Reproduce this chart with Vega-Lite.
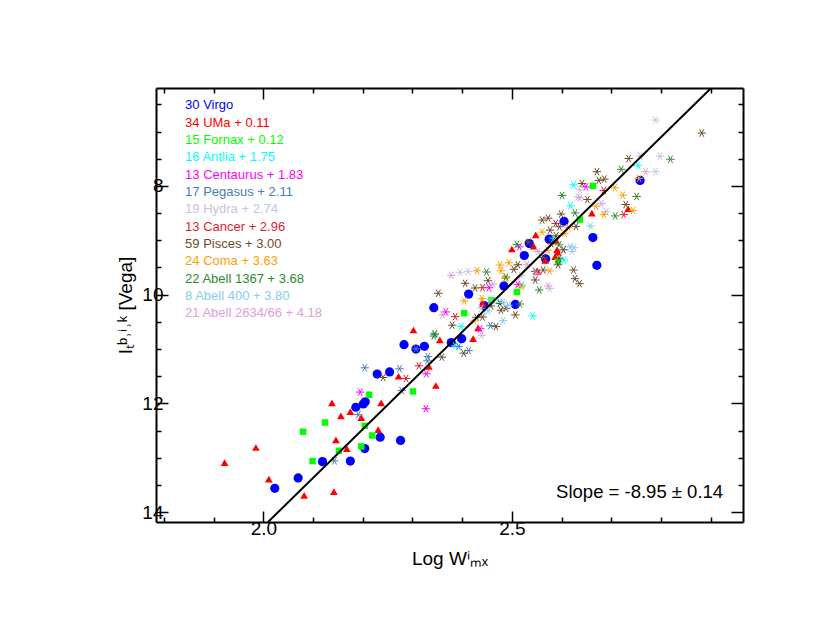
{
  "$schema": "https://vega.github.io/schema/vega-lite/v6.json",
  "width": 587,
  "height": 434,
  "autosize": {"type": "none"},
  "padding": {"left": 156, "top": 88, "right": 87, "bottom": 120},
  "config": {
    "view": {"stroke": null},
    "font": "Liberation Sans",
    "axis": {"grid": false, "domainColor": "black", "domainWidth": 2, "tickColor": "black", "tickWidth": 1.5, "labelColor": "black", "labelFont": "Liberation Sans", "labelFontSize": 19, "titleFont": "Liberation Sans", "titleFontSize": 19, "titleFontWeight": "normal", "titleColor": "black"}
  },
  "datasets": {
    "fit": [{"x": 2.0094, "y": 14.18}, {"x": 2.901, "y": 6.2}],
    "leg": [
      {"order": 0, "c": "Virgo", "label": "30 Virgo"},
      {"order": 1, "c": "UMa", "label": "34 UMa + 0.11"},
      {"order": 2, "c": "Fornax", "label": "15 Fornax + 0.12"},
      {"order": 3, "c": "Antlia", "label": "16 Antlia + 1.75"},
      {"order": 4, "c": "Centaurus", "label": "13 Centaurus + 1.83"},
      {"order": 5, "c": "Pegasus", "label": "17 Pegasus + 2.11"},
      {"order": 6, "c": "Hydra", "label": "19 Hydra + 2.74"},
      {"order": 7, "c": "Cancer", "label": "13 Cancer + 2.96"},
      {"order": 8, "c": "Pisces", "label": "59 Pisces + 3.00"},
      {"order": 9, "c": "Coma", "label": "24 Coma + 3.63"},
      {"order": 10, "c": "Abell 1367", "label": "22 Abell 1367 + 3.68"},
      {"order": 11, "c": "Abell 400", "label": "8 Abell 400 + 3.80"},
      {"order": 12, "c": "Abell 2634/66", "label": "21 Abell 2634/66 + 4.18"}
    ],
    "pts": [
      {"c": "Virgo", "x": 2.758, "y": 7.90},
      {"c": "Virgo", "x": 2.605, "y": 8.65},
      {"c": "Virgo", "x": 2.575, "y": 8.98},
      {"c": "Virgo", "x": 2.663, "y": 8.95},
      {"c": "Virgo", "x": 2.535, "y": 9.06},
      {"c": "Virgo", "x": 2.525, "y": 9.28},
      {"c": "Virgo", "x": 2.568, "y": 9.34},
      {"c": "Virgo", "x": 2.671, "y": 9.46},
      {"c": "Virgo", "x": 2.484, "y": 9.84},
      {"c": "Virgo", "x": 2.413, "y": 9.99},
      {"c": "Virgo", "x": 2.507, "y": 10.18},
      {"c": "Virgo", "x": 2.343, "y": 10.24},
      {"c": "Virgo", "x": 2.444, "y": 10.20},
      {"c": "Virgo", "x": 2.399, "y": 10.81},
      {"c": "Virgo", "x": 2.378, "y": 10.88},
      {"c": "Virgo", "x": 2.324, "y": 10.95},
      {"c": "Virgo", "x": 2.307, "y": 11.00},
      {"c": "Virgo", "x": 2.283, "y": 10.92},
      {"c": "Virgo", "x": 2.229, "y": 11.46},
      {"c": "Virgo", "x": 2.254, "y": 11.42},
      {"c": "Virgo", "x": 2.186, "y": 12.07},
      {"c": "Virgo", "x": 2.201, "y": 12.01},
      {"c": "Virgo", "x": 2.205, "y": 11.97},
      {"c": "Virgo", "x": 2.235, "y": 12.62},
      {"c": "Virgo", "x": 2.276, "y": 12.68},
      {"c": "Virgo", "x": 2.204, "y": 12.83},
      {"c": "Virgo", "x": 2.119, "y": 13.07},
      {"c": "Virgo", "x": 2.175, "y": 13.06},
      {"c": "Virgo", "x": 2.070, "y": 13.37},
      {"c": "Virgo", "x": 2.023, "y": 13.56},
      {"c": "UMa", "x": 2.302, "y": 10.65},
      {"c": "UMa", "x": 2.355, "y": 10.83},
      {"c": "UMa", "x": 2.272, "y": 11.50},
      {"c": "UMa", "x": 2.333, "y": 11.32},
      {"c": "UMa", "x": 2.347, "y": 11.67},
      {"c": "UMa", "x": 2.138, "y": 11.99},
      {"c": "UMa", "x": 2.237, "y": 11.99},
      {"c": "UMa", "x": 2.156, "y": 12.23},
      {"c": "UMa", "x": 2.175, "y": 12.15},
      {"c": "UMa", "x": 2.197, "y": 12.26},
      {"c": "UMa", "x": 2.231, "y": 12.48},
      {"c": "UMa", "x": 2.146, "y": 12.67},
      {"c": "UMa", "x": 2.168, "y": 12.83},
      {"c": "UMa", "x": 1.985, "y": 12.81},
      {"c": "UMa", "x": 1.922, "y": 13.09},
      {"c": "UMa", "x": 2.011, "y": 13.39},
      {"c": "UMa", "x": 2.082, "y": 13.69},
      {"c": "UMa", "x": 2.142, "y": 13.62},
      {"c": "UMa", "x": 2.661, "y": 8.50},
      {"c": "UMa", "x": 2.734, "y": 8.42},
      {"c": "UMa", "x": 2.548, "y": 8.90},
      {"c": "UMa", "x": 2.589, "y": 9.00},
      {"c": "UMa", "x": 2.500, "y": 9.16},
      {"c": "UMa", "x": 2.544, "y": 9.11},
      {"c": "UMa", "x": 2.591, "y": 9.17},
      {"c": "UMa", "x": 2.592, "y": 9.22},
      {"c": "UMa", "x": 2.567, "y": 9.37},
      {"c": "UMa", "x": 2.587, "y": 9.30},
      {"c": "UMa", "x": 2.552, "y": 9.57},
      {"c": "UMa", "x": 2.441, "y": 10.16},
      {"c": "UMa", "x": 2.432, "y": 10.61},
      {"c": "UMa", "x": 2.422, "y": 10.81},
      {"c": "Fornax", "x": 2.213, "y": 11.84},
      {"c": "Fornax", "x": 2.301, "y": 11.78},
      {"c": "Fornax", "x": 2.124, "y": 12.35},
      {"c": "Fornax", "x": 2.080, "y": 12.52},
      {"c": "Fornax", "x": 2.204, "y": 12.41},
      {"c": "Fornax", "x": 2.219, "y": 12.59},
      {"c": "Fornax", "x": 2.197, "y": 12.79},
      {"c": "Fornax", "x": 2.152, "y": 12.87},
      {"c": "Fornax", "x": 2.099, "y": 13.06},
      {"c": "Fornax", "x": 2.663, "y": 8.00},
      {"c": "Fornax", "x": 2.637, "y": 8.62},
      {"c": "Fornax", "x": 2.593, "y": 9.38},
      {"c": "Fornax", "x": 2.510, "y": 9.95},
      {"c": "Fornax", "x": 2.459, "y": 10.10},
      {"c": "Fornax", "x": 2.404, "y": 10.34},
      {"c": "Antlia", "x": 2.754, "y": 7.622},
      {"c": "Antlia", "x": 2.618, "y": 8.367},
      {"c": "Antlia", "x": 2.624, "y": 7.982},
      {"c": "Antlia", "x": 2.605, "y": 9.363},
      {"c": "Antlia", "x": 2.520, "y": 9.822},
      {"c": "Antlia", "x": 2.398, "y": 10.587},
      {"c": "Antlia", "x": 2.476, "y": 10.139},
      {"c": "Antlia", "x": 2.542, "y": 10.391},
      {"c": "Antlia", "x": 2.386, "y": 10.941},
      {"c": "Antlia", "x": 2.584, "y": 8.960},
      {"c": "Antlia", "x": 2.344, "y": 10.734},
      {"c": "Centaurus", "x": 2.649, "y": 8.018},
      {"c": "Centaurus", "x": 2.454, "y": 9.872},
      {"c": "Centaurus", "x": 2.367, "y": 10.317},
      {"c": "Centaurus", "x": 2.515, "y": 9.121},
      {"c": "Centaurus", "x": 2.512, "y": 9.811},
      {"c": "Centaurus", "x": 2.436, "y": 10.626},
      {"c": "Centaurus", "x": 2.328, "y": 11.455},
      {"c": "Centaurus", "x": 2.327, "y": 12.097},
      {"c": "Centaurus", "x": 2.195, "y": 11.791},
      {"c": "Pegasus", "x": 2.457, "y": 10.569},
      {"c": "Pegasus", "x": 2.393, "y": 10.954},
      {"c": "Pegasus", "x": 2.413, "y": 11.028},
      {"c": "Pegasus", "x": 2.331, "y": 11.138},
      {"c": "Pegasus", "x": 2.330, "y": 11.217},
      {"c": "Pegasus", "x": 2.307, "y": 10.996},
      {"c": "Pegasus", "x": 2.274, "y": 11.363},
      {"c": "Pegasus", "x": 2.204, "y": 11.345},
      {"c": "Pegasus", "x": 2.278, "y": 11.761},
      {"c": "Pegasus", "x": 2.191, "y": 12.207},
      {"c": "Pegasus", "x": 2.143, "y": 13.057},
      {"c": "Hydra", "x": 2.789, "y": 6.789},
      {"c": "Hydra", "x": 2.798, "y": 7.455},
      {"c": "Hydra", "x": 2.789, "y": 7.739},
      {"c": "Hydra", "x": 2.690, "y": 8.473},
      {"c": "Hydra", "x": 2.633, "y": 8.202},
      {"c": "Hydra", "x": 2.603, "y": 9.167},
      {"c": "Hydra", "x": 2.412, "y": 9.571},
      {"c": "Hydra", "x": 2.396, "y": 9.589},
      {"c": "Hydra", "x": 2.621, "y": 9.207},
      {"c": "Hydra", "x": 2.576, "y": 9.886},
      {"c": "Hydra", "x": 2.519, "y": 9.651},
      {"c": "Hydra", "x": 2.637, "y": 8.072},
      {"c": "Hydra", "x": 2.438, "y": 10.250},
      {"c": "Cancer", "x": 2.685, "y": 8.084},
      {"c": "Cancer", "x": 2.725, "y": 8.528},
      {"c": "Cancer", "x": 2.588, "y": 8.690},
      {"c": "Cancer", "x": 2.441, "y": 9.872},
      {"c": "Cancer", "x": 2.386, "y": 10.404},
      {"c": "Cancer", "x": 2.313, "y": 11.308},
      {"c": "Cancer", "x": 2.287, "y": 11.541},
      {"c": "Pisces", "x": 2.882, "y": 7.029},
      {"c": "Pisces", "x": 2.735, "y": 7.497},
      {"c": "Pisces", "x": 2.671, "y": 7.739},
      {"c": "Pisces", "x": 2.686, "y": 7.875},
      {"c": "Pisces", "x": 2.675, "y": 7.899},
      {"c": "Pisces", "x": 2.641, "y": 7.956},
      {"c": "Pisces", "x": 2.729, "y": 8.343},
      {"c": "Pisces", "x": 2.652, "y": 8.251},
      {"c": "Pisces", "x": 2.599, "y": 8.519},
      {"c": "Pisces", "x": 2.561, "y": 8.629},
      {"c": "Pisces", "x": 2.573, "y": 8.593},
      {"c": "Pisces", "x": 2.596, "y": 8.752},
      {"c": "Pisces", "x": 2.577, "y": 8.813},
      {"c": "Pisces", "x": 2.593, "y": 9.450},
      {"c": "Pisces", "x": 2.624, "y": 9.547},
      {"c": "Pisces", "x": 2.627, "y": 9.706},
      {"c": "Pisces", "x": 2.636, "y": 9.798},
      {"c": "Pisces", "x": 2.547, "y": 9.730},
      {"c": "Pisces", "x": 2.547, "y": 9.571},
      {"c": "Pisces", "x": 2.512, "y": 9.450},
      {"c": "Pisces", "x": 2.406, "y": 9.791},
      {"c": "Pisces", "x": 2.426, "y": 9.877},
      {"c": "Pisces", "x": 2.452, "y": 9.743},
      {"c": "Pisces", "x": 2.352, "y": 9.974},
      {"c": "Pisces", "x": 2.380, "y": 10.561},
      {"c": "Pisces", "x": 2.458, "y": 10.207},
      {"c": "Pisces", "x": 2.488, "y": 10.250},
      {"c": "Pisces", "x": 2.507, "y": 10.372},
      {"c": "Pisces", "x": 2.468, "y": 10.587},
      {"c": "Pisces", "x": 2.429, "y": 10.415},
      {"c": "Pisces", "x": 2.345, "y": 10.721},
      {"c": "Pisces", "x": 2.403, "y": 11.075},
      {"c": "Pisces", "x": 2.359, "y": 11.149},
      {"c": "Pisces", "x": 2.579, "y": 9.064},
      {"c": "Pisces", "x": 2.604, "y": 9.176},
      {"c": "Pisces", "x": 2.563, "y": 9.317},
      {"c": "Pisces", "x": 2.595, "y": 9.330},
      {"c": "Pisces", "x": 2.589, "y": 8.917},
      {"c": "Pisces", "x": 2.629, "y": 8.745},
      {"c": "Pisces", "x": 2.533, "y": 9.035},
      {"c": "Pisces", "x": 2.504, "y": 9.534},
      {"c": "Pisces", "x": 2.563, "y": 9.547},
      {"c": "Pisces", "x": 2.476, "y": 10.163},
      {"c": "Pisces", "x": 2.478, "y": 10.286},
      {"c": "Pisces", "x": 2.441, "y": 10.411},
      {"c": "Pisces", "x": 2.241, "y": 11.523},
      {"c": "Coma", "x": 2.707, "y": 8.035},
      {"c": "Coma", "x": 2.756, "y": 7.862},
      {"c": "Coma", "x": 2.723, "y": 8.171},
      {"c": "Coma", "x": 2.744, "y": 8.455},
      {"c": "Coma", "x": 2.685, "y": 8.528},
      {"c": "Coma", "x": 2.669, "y": 8.372},
      {"c": "Coma", "x": 2.614, "y": 8.771},
      {"c": "Coma", "x": 2.606, "y": 8.873},
      {"c": "Coma", "x": 2.561, "y": 8.850},
      {"c": "Coma", "x": 2.494, "y": 9.413},
      {"c": "Coma", "x": 2.476, "y": 9.455},
      {"c": "Coma", "x": 2.478, "y": 9.560},
      {"c": "Coma", "x": 2.430, "y": 9.560},
      {"c": "Coma", "x": 2.404, "y": 10.116},
      {"c": "Coma", "x": 2.424, "y": 10.483},
      {"c": "Coma", "x": 2.572, "y": 9.182},
      {"c": "Coma", "x": 2.576, "y": 9.565},
      {"c": "Coma", "x": 2.487, "y": 9.701},
      {"c": "Coma", "x": 2.519, "y": 9.855},
      {"c": "Coma", "x": 2.440, "y": 10.072},
      {"c": "Abell 1367", "x": 2.819, "y": 7.510},
      {"c": "Abell 1367", "x": 2.720, "y": 7.695},
      {"c": "Abell 1367", "x": 2.751, "y": 8.194},
      {"c": "Abell 1367", "x": 2.708, "y": 8.552},
      {"c": "Abell 1367", "x": 2.601, "y": 8.176},
      {"c": "Abell 1367", "x": 2.510, "y": 9.075},
      {"c": "Abell 1367", "x": 2.555, "y": 9.914},
      {"c": "Abell 1367", "x": 2.449, "y": 9.583},
      {"c": "Abell 1367", "x": 2.488, "y": 9.675},
      {"c": "Abell 1367", "x": 2.516, "y": 10.171},
      {"c": "Abell 1367", "x": 2.595, "y": 9.084},
      {"c": "Abell 1367", "x": 2.627, "y": 8.497},
      {"c": "Abell 1367", "x": 2.343, "y": 10.761},
      {"c": "Abell 400", "x": 2.617, "y": 9.119},
      {"c": "Abell 400", "x": 2.625, "y": 9.138},
      {"c": "Abell 400", "x": 2.482, "y": 10.147},
      {"c": "Abell 400", "x": 2.452, "y": 10.299},
      {"c": "Abell 400", "x": 2.458, "y": 10.101},
      {"c": "Abell 400", "x": 2.493, "y": 10.194},
      {"c": "Abell 400", "x": 2.482, "y": 10.479},
      {"c": "Abell 400", "x": 2.658, "y": 8.738},
      {"c": "Abell 2634/66", "x": 2.758, "y": 7.450},
      {"c": "Abell 2634/66", "x": 2.769, "y": 7.739},
      {"c": "Abell 2634/66", "x": 2.680, "y": 8.325},
      {"c": "Abell 2634/66", "x": 2.573, "y": 9.840},
      {"c": "Abell 2634/66", "x": 2.530, "y": 9.442},
      {"c": "Abell 2634/66", "x": 2.378, "y": 9.644},
      {"c": "Abell 2634/66", "x": 2.462, "y": 9.804},
      {"c": "Abell 2634/66", "x": 2.360, "y": 10.372},
      {"c": "Abell 2634/66", "x": 2.439, "y": 10.745},
      {"c": "Abell 2634/66", "x": 2.637, "y": 8.220},
      {"c": "Abell 2634/66", "x": 2.553, "y": 9.207},
      {"c": "Abell 2634/66", "x": 2.549, "y": 9.607}
    ]
  },
  "layer": [
    {
      "data": {"name": "pts"},
      "transform": [{"filter": "datum.c === 'Virgo'"}],
      "mark": {"type": "circle", "color": "#0000FF", "opacity": 1, "size": 85},
      "encoding": {
        "x": {"field": "x", "type": "quantitative", "scale": {"domain": [1.784, 2.965], "zero": false, "nice": false},
          "axis": {"orient": "bottom", "values": [1.8, 1.9, 2.1, 2.2, 2.3, 2.4, 2.6, 2.7, 2.8, 2.9], "labels": false, "tickSize": -5, "domain": false, "title": null}},
        "y": {"field": "y", "type": "quantitative", "scale": {"domain": [6.2, 14.18], "reverse": true, "zero": false, "nice": false},
          "axis": {"orient": "left", "values": [6.5, 7, 7.5, 8.5, 9, 9.5, 10.5, 11, 11.5, 12.5, 13, 13.5], "labels": false, "tickSize": -5, "domain": false, "title": null}}
      }
    },
    {
      "data": {"name": "pts"},
      "transform": [{"filter": "datum.c === 'UMa'"}],
      "mark": {"type": "point", "shape": "triangle-up", "filled": true, "color": "#FF0000", "opacity": 1, "size": 60},
      "encoding": {
        "x": {"field": "x", "type": "quantitative", "scale": {"domain": [1.784, 2.965], "zero": false, "nice": false},
          "axis": {"orient": "top", "values": [2.0, 2.5], "labels": false, "tickSize": -11, "domain": true, "title": null}},
        "y": {"field": "y", "type": "quantitative", "scale": {"domain": [6.2, 14.18], "reverse": true, "zero": false, "nice": false},
          "axis": {"orient": "right", "values": [8, 10, 12, 14], "labels": false, "tickSize": -12, "domain": true, "title": null}}
      }
    },
    {
      "data": {"name": "pts"},
      "transform": [{"filter": "datum.c === 'Fornax'"}],
      "mark": {"type": "square", "color": "#00FF00", "opacity": 1, "size": 42},
      "encoding": {
        "x": {"field": "x", "type": "quantitative", "scale": {"domain": [1.784, 2.965], "zero": false, "nice": false},
          "axis": {"orient": "top", "values": [1.8, 1.9, 2.1, 2.2, 2.3, 2.4, 2.6, 2.7, 2.8, 2.9], "labels": false, "tickSize": -5, "domain": false, "title": null}},
        "y": {"field": "y", "type": "quantitative", "scale": {"domain": [6.2, 14.18], "reverse": true, "zero": false, "nice": false},
          "axis": {"orient": "right", "values": [6.5, 7, 7.5, 8.5, 9, 9.5, 10.5, 11, 11.5, 12.5, 13, 13.5], "labels": false, "tickSize": -5, "domain": false, "title": null}}
      }
    },
    {
      "data": {"name": "pts"},
      "transform": [{"filter": "indexof(['Virgo', 'UMa', 'Fornax'], datum.c) < 0"}],
      "mark": {"type": "point", "shape": "M-1,0L1,0M-0.5,-0.866L0.5,0.866M-0.5,0.866L0.5,-0.866", "filled": false, "strokeWidth": 1, "size": 72, "opacity": 1},
      "encoding": {
        "x": {"field": "x", "type": "quantitative", "scale": {"domain": [1.784, 2.965], "zero": false, "nice": false}, "axis": null},
        "y": {"field": "y", "type": "quantitative", "scale": {"domain": [6.2, 14.18], "reverse": true, "zero": false, "nice": false}, "axis": null},
        "color": {"field": "c", "type": "nominal", "legend": null,
          "scale": {"domain": ["Virgo", "UMa", "Fornax", "Antlia", "Centaurus", "Pegasus", "Hydra", "Cancer", "Pisces", "Coma", "Abell 1367", "Abell 400", "Abell 2634/66"],
                    "range": ["#0000FF", "#FF0000", "#00FF00", "#00FFFF", "#FF00FF", "#4A7EBB", "#C4C4E4", "#DC1E32", "#6E4B2A", "#FFA000", "#2E8B2E", "#87CEEB", "#DDA0DD"]}}
      }
    },
    {
      "data": {"name": "fit"},
      "mark": {"type": "line", "color": "black", "strokeWidth": 2, "clip": true},
      "encoding": {
        "x": {"field": "x", "type": "quantitative", "scale": {"domain": [1.784, 2.965], "zero": false, "nice": false},
          "axis": {"orient": "bottom", "values": [2.0, 2.5], "format": ".1f", "tickSize": -11, "labelPadding": 8, "domain": true, "title": "Log Wⁱₘₓ", "titlePadding": 11}},
        "y": {"field": "y", "type": "quantitative", "scale": {"domain": [6.2, 14.18], "reverse": true, "zero": false, "nice": false},
          "axis": {"orient": "left", "values": [8, 10, 12, 14], "format": "d", "tickSize": -12, "labelPadding": 5, "domain": true, "title": "Iₜᵇ˒ⁱ˒ᵏ [Vega]", "titlePadding": 6}}
      }
    },
    {
      "data": {"name": "leg"},
      "mark": {"type": "text", "align": "left", "baseline": "alphabetic", "fontSize": 13, "font": "Liberation Sans"},
      "encoding": {
        "x": {"datum": 1.8425, "type": "quantitative", "scale": {"domain": [1.784, 2.965], "zero": false, "nice": false}, "axis": null},
        "y": {"field": "order", "type": "quantitative", "scale": {"domain": [-1.2277, 23.787], "reverse": true, "zero": false, "nice": false}, "axis": null},
        "text": {"field": "label"},
        "color": {"field": "c", "type": "nominal", "legend": null,
          "scale": {"domain": ["Virgo", "UMa", "Fornax", "Antlia", "Centaurus", "Pegasus", "Hydra", "Cancer", "Pisces", "Coma", "Abell 1367", "Abell 400", "Abell 2634/66"],
                    "range": ["#0000FF", "#FF0000", "#00FF00", "#00FFFF", "#FF00FF", "#4A7EBB", "#C4C4E4", "#DC1E32", "#6E4B2A", "#FFA000", "#2E8B2E", "#87CEEB", "#DDA0DD"]}}
      }
    },
    {
      "data": {"values": [{"t": "Slope = -8.95 ± 0.14"}]},
      "mark": {"type": "text", "align": "right", "baseline": "alphabetic", "fontSize": 18.5, "font": "Liberation Sans", "color": "black"},
      "encoding": {
        "x": {"datum": 2.925, "type": "quantitative", "scale": {"domain": [1.784, 2.965], "zero": false, "nice": false}, "axis": null},
        "y": {"datum": 13.736, "type": "quantitative", "scale": {"domain": [6.2, 14.18], "reverse": true, "zero": false, "nice": false}, "axis": null},
        "text": {"field": "t"}
      }
    }
  ],
  "resolve": {"scale": {"y": "independent"}, "axis": {"x": "independent", "y": "independent"}}
}
